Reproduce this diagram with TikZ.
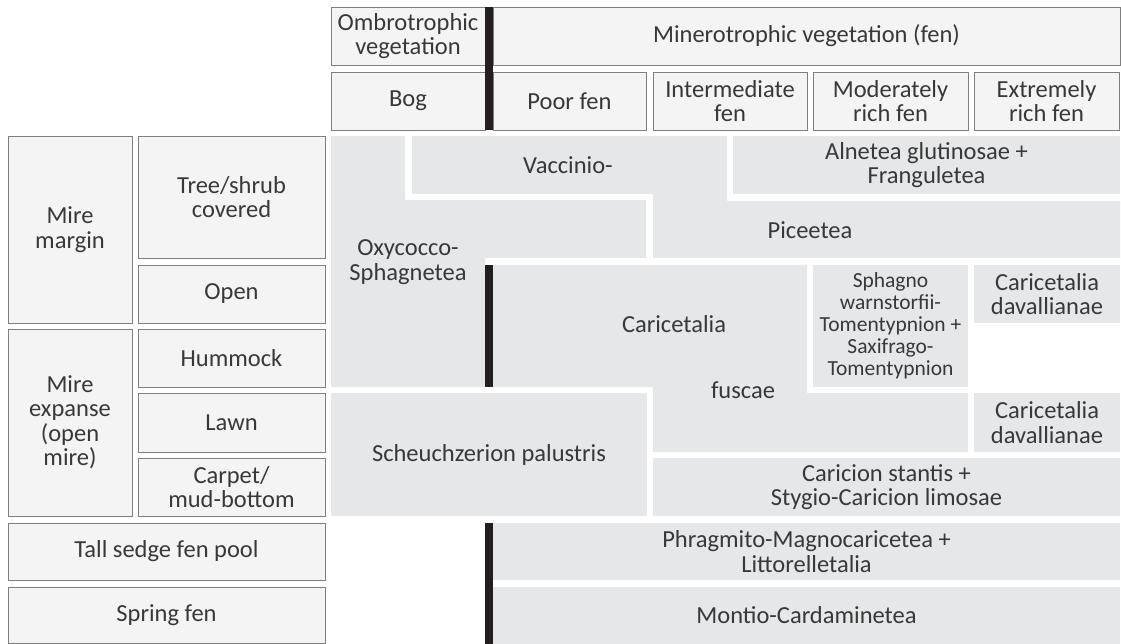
\documentclass[tikz,border=0pt]{standalone}
\usepackage{fontspec}
\setmainfont{Carlito}
\usepackage{tikz}
\definecolor{cBox}{HTML}{F4F4F4}
\definecolor{cLine}{HTML}{7F7F7F}
\definecolor{cVeg}{HTML}{E6E7E8}
\definecolor{cBar}{HTML}{231F20}
\definecolor{cTxt}{HTML}{383838}
\tikzset{
  txt/.style  = {align=center, inner sep=0pt, text=cTxt,
                 font=\fontsize{24.5}{24.5}\selectfont},
  hdr/.style  = {txt, rectangle, draw=cLine, fill=cBox, line width=0.9pt},
  veg/.style  = {txt, rectangle, fill=cVeg},
  colw/.style = {minimum width=154pt},
  rowh/.style = {minimum height=58pt},
  sidew/.style = {minimum width=187pt},
  bar/.style  = {fill=cBar},
}

\begin{document}
\begin{tikzpicture}[x=1pt, y=-1pt]
  \useasboundingbox (0,0) rectangle (1121,644);

  % ---- HEADER ----
  \node[hdr, colw, rowh] (omb) at (408,36) {Ombrotrophic\\vegetation};
  \node[hdr, rowh, minimum width=627pt] (mino) at (806.5,36) {Minerotrophic vegetation (fen)};
  \node[hdr, colw, rowh] (bog)   at (408,101)   {Bog};
  \node[hdr, rowh, minimum width=153pt] (poor) at (569.5,101) {Poor fen};
  \node[hdr, colw, rowh] (inter) at (730,101)   {Intermediate\\fen};
  \node[hdr, rowh, minimum width=155pt] (modr) at (890.5,101) {Moderately\\rich fen};
  \node[hdr, rowh, minimum width=145pt] (extr) at (1046.5,101) {Extremely\\rich fen};

  % ---- MIRE SITES ----
  \node[hdr, minimum width=124pt, minimum height=187pt] (mmarg) at (70,229.5) {Mire\\margin};
  \node[hdr, sidew, minimum height=122pt] (tree) at (231.5,197) {Tree/shrub\\covered};
  \node[hdr, sidew, rowh] (open) at (231.5,294) {Open};
  \node[hdr, minimum width=124pt, minimum height=187pt] (mexp) at (70,422.5) {Mire\\expanse\\(open\\mire)};
  \node[hdr, sidew, rowh] (humm) at (231.5,358)   {Hummock};
  \node[hdr, sidew, minimum height=59pt] (lawn) at (231.5,422.5) {Lawn};
  \node[hdr, sidew, rowh] (carp) at (231.5,487)   {Carpet/\\mud-bottom};
  \node[hdr, minimum width=317pt, minimum height=57pt] (tall)   at (166.5,551.5) {Tall sedge fen pool};
  \node[hdr, minimum width=317pt, minimum height=56pt] (spring) at (166.5,615)   {Spring fen};

  % ---- VEGETATION UNITS ----
  \fill[cVeg] (331,136) -- (405,136) -- (405,200) -- (646,200) -- (646,258)
    -- (485,258) -- (485,387) -- (331,387) -- cycle;
  \node[txt] (oxy) at (408,262) {Oxycocco-\\Sphagnetea};

  \fill[cVeg] (412,136) -- (727,136) -- (727,201) -- (1120,201) -- (1120,258)
    -- (653,258) -- (653,194) -- (412,194) -- cycle;
  \node[txt] (vacc) at (568,165) {Vaccinio-};
  \node[txt] (pice) at (810,230) {Piceetea};

  \node[veg, minimum width=387pt, rowh] (aln) at (926.5,165) {Alnetea glutinosae +\\Franguletea};

  \fill[cVeg] (493,265) -- (807,265) -- (807,393) -- (968,393) -- (968,452)
    -- (653,452) -- (653,387) -- (493,387) -- cycle;
  \node[txt] (cfus) at (674,324) {Caricetalia};
  \node[txt] (fusc) at (743,390) {fuscae};

  \node[veg, minimum width=155pt, minimum height=122pt, font=\fontsize{21.5}{22}\selectfont] (sphw) at (890.5,326)
    {Sphagno\\warnstorfii-\\Tomentypnion +\\Saxifrago-\\Tomentypnion};
  \node[veg, minimum width=146pt, rowh] (dav1) at (1047,294) {Caricetalia\\davallianae};
  \node[veg, minimum width=146pt, minimum height=59pt] (dav2) at (1047,422.5) {Caricetalia\\davallianae};
  \node[veg, minimum width=316pt, minimum height=123pt] (scheu) at (489,454.5) {Scheuchzerion palustris};
  \node[veg, minimum width=467pt, rowh] (stant) at (886.5,487) {Caricion stantis +\\Stygio-Caricion limosae};
  \node[veg, minimum width=627pt, minimum height=57pt] (phrag) at (806.5,551.5) {Phragmito-Magnocaricetea +\\Littorelletalia};
  \node[veg, minimum width=627pt, minimum height=57pt] (mont) at (806.5,615.5) {Montio-Cardaminetea};

  % ---- BOG / FEN BORDER ----
  \fill[bar] (485,7) rectangle (493,130);
  \fill[bar] (485,265) rectangle (493,387);
  \fill[bar] (485,523) rectangle (493,644);
\end{tikzpicture}
\end{document}
